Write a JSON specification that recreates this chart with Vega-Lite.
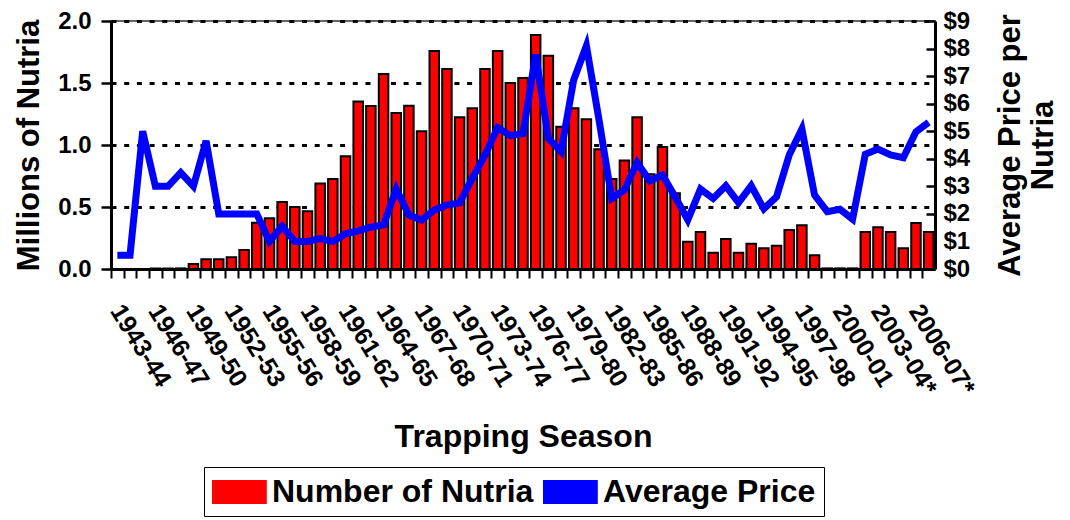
{
  "$schema": "https://vega.github.io/schema/vega-lite/v6.json",
  "width": 824,
  "height": 248,
  "padding": {"left": 13, "top": 9, "right": 5, "bottom": 3},
  "background": "white",
  "config": {
    "font": "Liberation Sans",
    "view": {"stroke": "#333333", "strokeWidth": 1.5},
    "axis": {
      "labelFont": "Liberation Sans", "labelFontWeight": "bold", "labelFontSize": 24, "labelColor": "black",
      "titleFont": "Liberation Sans", "titleFontWeight": "bold", "titleFontSize": 31, "titleColor": "black",
      "domainColor": "black", "domainWidth": 3, "tickColor": "black", "tickWidth": 2.5
    },
    "legend": {
      "labelFont": "Liberation Sans", "labelFontWeight": "bold", "labelFontSize": 32, "labelColor": "black"
    }
  },
  "datasets": {
    "counts": [
      {"season": "1943-44", "series": "Number of Nutria", "value": 0},
      {"season": "1944-45", "series": "Number of Nutria", "value": 0},
      {"season": "1945-46", "series": "Number of Nutria", "value": 0},
      {"season": "1946-47", "series": "Number of Nutria", "value": 0.005},
      {"season": "1947-48", "series": "Number of Nutria", "value": 0.005},
      {"season": "1948-49", "series": "Number of Nutria", "value": 0.005},
      {"season": "1949-50", "series": "Number of Nutria", "value": 0.04},
      {"season": "1950-51", "series": "Number of Nutria", "value": 0.078},
      {"season": "1951-52", "series": "Number of Nutria", "value": 0.078},
      {"season": "1952-53", "series": "Number of Nutria", "value": 0.094},
      {"season": "1953-54", "series": "Number of Nutria", "value": 0.153},
      {"season": "1954-55", "series": "Number of Nutria", "value": 0.373},
      {"season": "1955-56", "series": "Number of Nutria", "value": 0.41},
      {"season": "1956-57", "series": "Number of Nutria", "value": 0.54},
      {"season": "1957-58", "series": "Number of Nutria", "value": 0.50},
      {"season": "1958-59", "series": "Number of Nutria", "value": 0.465},
      {"season": "1959-60", "series": "Number of Nutria", "value": 0.69},
      {"season": "1960-61", "series": "Number of Nutria", "value": 0.726},
      {"season": "1961-62", "series": "Number of Nutria", "value": 0.91},
      {"season": "1962-63", "series": "Number of Nutria", "value": 1.35},
      {"season": "1963-64", "series": "Number of Nutria", "value": 1.315},
      {"season": "1964-65", "series": "Number of Nutria", "value": 1.573},
      {"season": "1965-66", "series": "Number of Nutria", "value": 1.258},
      {"season": "1966-67", "series": "Number of Nutria", "value": 1.317},
      {"season": "1967-68", "series": "Number of Nutria", "value": 1.11},
      {"season": "1968-69", "series": "Number of Nutria", "value": 1.758},
      {"season": "1969-70", "series": "Number of Nutria", "value": 1.613},
      {"season": "1970-71", "series": "Number of Nutria", "value": 1.223},
      {"season": "1971-72", "series": "Number of Nutria", "value": 1.296},
      {"season": "1972-73", "series": "Number of Nutria", "value": 1.613},
      {"season": "1973-74", "series": "Number of Nutria", "value": 1.758},
      {"season": "1974-75", "series": "Number of Nutria", "value": 1.50},
      {"season": "1975-76", "series": "Number of Nutria", "value": 1.54},
      {"season": "1976-77", "series": "Number of Nutria", "value": 1.887},
      {"season": "1977-78", "series": "Number of Nutria", "value": 1.72},
      {"season": "1978-79", "series": "Number of Nutria", "value": 1.148},
      {"season": "1979-80", "series": "Number of Nutria", "value": 1.296},
      {"season": "1980-81", "series": "Number of Nutria", "value": 1.207},
      {"season": "1981-82", "series": "Number of Nutria", "value": 0.965},
      {"season": "1982-83", "series": "Number of Nutria", "value": 0.726},
      {"season": "1983-84", "series": "Number of Nutria", "value": 0.874},
      {"season": "1984-85", "series": "Number of Nutria", "value": 1.223},
      {"season": "1985-86", "series": "Number of Nutria", "value": 0.764},
      {"season": "1986-87", "series": "Number of Nutria", "value": 0.984},
      {"season": "1987-88", "series": "Number of Nutria", "value": 0.61},
      {"season": "1988-89", "series": "Number of Nutria", "value": 0.22},
      {"season": "1989-90", "series": "Number of Nutria", "value": 0.298},
      {"season": "1990-91", "series": "Number of Nutria", "value": 0.132},
      {"season": "1991-92", "series": "Number of Nutria", "value": 0.242},
      {"season": "1992-93", "series": "Number of Nutria", "value": 0.132},
      {"season": "1993-94", "series": "Number of Nutria", "value": 0.204},
      {"season": "1994-95", "series": "Number of Nutria", "value": 0.167},
      {"season": "1995-96", "series": "Number of Nutria", "value": 0.188},
      {"season": "1996-97", "series": "Number of Nutria", "value": 0.315},
      {"season": "1997-98", "series": "Number of Nutria", "value": 0.352},
      {"season": "1998-99", "series": "Number of Nutria", "value": 0.11},
      {"season": "1999-00", "series": "Number of Nutria", "value": 0.005},
      {"season": "2000-01", "series": "Number of Nutria", "value": 0.005},
      {"season": "2001-02", "series": "Number of Nutria", "value": 0.005},
      {"season": "2002-03*", "series": "Number of Nutria", "value": 0.298},
      {"season": "2003-04*", "series": "Number of Nutria", "value": 0.336},
      {"season": "2004-05*", "series": "Number of Nutria", "value": 0.298},
      {"season": "2005-06*", "series": "Number of Nutria", "value": 0.167},
      {"season": "2006-07*", "series": "Number of Nutria", "value": 0.371},
      {"season": "2007-08*", "series": "Number of Nutria", "value": 0.298}
    ],
    "prices": [
      {"season": "1943-44", "series": "Average Price", "value": 0.50},
      {"season": "1944-45", "series": "Average Price", "value": 0.50},
      {"season": "1945-46", "series": "Average Price", "value": 5.00},
      {"season": "1946-47", "series": "Average Price", "value": 3.00},
      {"season": "1947-48", "series": "Average Price", "value": 3.00},
      {"season": "1948-49", "series": "Average Price", "value": 3.50},
      {"season": "1949-50", "series": "Average Price", "value": 3.00},
      {"season": "1950-51", "series": "Average Price", "value": 4.65},
      {"season": "1951-52", "series": "Average Price", "value": 2.00},
      {"season": "1952-53", "series": "Average Price", "value": 2.00},
      {"season": "1953-54", "series": "Average Price", "value": 2.00},
      {"season": "1954-55", "series": "Average Price", "value": 2.00},
      {"season": "1955-56", "series": "Average Price", "value": 1.00},
      {"season": "1956-57", "series": "Average Price", "value": 1.55},
      {"season": "1957-58", "series": "Average Price", "value": 1.00},
      {"season": "1958-59", "series": "Average Price", "value": 1.00},
      {"season": "1959-60", "series": "Average Price", "value": 1.10},
      {"season": "1960-61", "series": "Average Price", "value": 1.00},
      {"season": "1961-62", "series": "Average Price", "value": 1.28},
      {"season": "1962-63", "series": "Average Price", "value": 1.38},
      {"season": "1963-64", "series": "Average Price", "value": 1.52},
      {"season": "1964-65", "series": "Average Price", "value": 1.60},
      {"season": "1965-66", "series": "Average Price", "value": 2.90},
      {"season": "1966-67", "series": "Average Price", "value": 1.96},
      {"season": "1967-68", "series": "Average Price", "value": 1.78},
      {"season": "1968-69", "series": "Average Price", "value": 2.14},
      {"season": "1969-70", "series": "Average Price", "value": 2.32},
      {"season": "1970-71", "series": "Average Price", "value": 2.40},
      {"season": "1971-72", "series": "Average Price", "value": 3.29},
      {"season": "1972-73", "series": "Average Price", "value": 4.14},
      {"season": "1973-74", "series": "Average Price", "value": 5.13},
      {"season": "1974-75", "series": "Average Price", "value": 4.84},
      {"season": "1975-76", "series": "Average Price", "value": 4.92},
      {"season": "1976-77", "series": "Average Price", "value": 7.78},
      {"season": "1977-78", "series": "Average Price", "value": 4.74},
      {"season": "1978-79", "series": "Average Price", "value": 4.26},
      {"season": "1979-80", "series": "Average Price", "value": 6.86},
      {"season": "1980-81", "series": "Average Price", "value": 8.10},
      {"season": "1981-82", "series": "Average Price", "value": 5.40},
      {"season": "1982-83", "series": "Average Price", "value": 2.56},
      {"season": "1983-84", "series": "Average Price", "value": 2.87},
      {"season": "1984-85", "series": "Average Price", "value": 3.86},
      {"season": "1985-86", "series": "Average Price", "value": 3.20},
      {"season": "1986-87", "series": "Average Price", "value": 3.41},
      {"season": "1987-88", "series": "Average Price", "value": 2.62},
      {"season": "1988-89", "series": "Average Price", "value": 1.78},
      {"season": "1989-90", "series": "Average Price", "value": 2.90},
      {"season": "1990-91", "series": "Average Price", "value": 2.56},
      {"season": "1991-92", "series": "Average Price", "value": 3.02},
      {"season": "1992-93", "series": "Average Price", "value": 2.41},
      {"season": "1993-94", "series": "Average Price", "value": 3.02},
      {"season": "1994-95", "series": "Average Price", "value": 2.18},
      {"season": "1995-96", "series": "Average Price", "value": 2.62},
      {"season": "1996-97", "series": "Average Price", "value": 4.14},
      {"season": "1997-98", "series": "Average Price", "value": 5.08},
      {"season": "1998-99", "series": "Average Price", "value": 2.68},
      {"season": "1999-00", "series": "Average Price", "value": 2.08},
      {"season": "2000-01", "series": "Average Price", "value": 2.17},
      {"season": "2001-02", "series": "Average Price", "value": 1.81},
      {"season": "2002-03*", "series": "Average Price", "value": 4.16},
      {"season": "2003-04*", "series": "Average Price", "value": 4.35},
      {"season": "2004-05*", "series": "Average Price", "value": 4.14},
      {"season": "2005-06*", "series": "Average Price", "value": 4.04},
      {"season": "2006-07*", "series": "Average Price", "value": 4.98},
      {"season": "2007-08*", "series": "Average Price", "value": 5.32}
    ]
  },
  "encoding": {
    "x": {
      "field": "season", "type": "ordinal", "sort": null,
      "scale": {"paddingInner": 0.25, "paddingOuter": 0.125},
      "axis": {
        "title": "Trapping Season",
        "labelAngle": 58, "labelAlign": "left", "labelBaseline": "top",
        "labelPadding": 22, "labelOverlap": false, "labelLimit": 300, "labelFontSize": 25,
        "labelExpr": "(toNumber(slice(datum.value,0,4))-1943)%3===0 ? datum.value : ''",
        "tickOffset": -6.34, "labelOffset": 15,
        "tickSize": 9, "tickWidth": 2,
        "titlePadding": 22, "titleFontSize": 32
      }
    }
  },
  "layer": [
    {
      "data": {"name": "counts"},
      "mark": {"type": "bar", "stroke": "black", "strokeWidth": 2},
      "encoding": {
        "y": {
          "field": "value", "type": "quantitative",
          "scale": {"domain": [0, 2], "nice": false},
          "axis": {
            "title": "Millions of Nutria", "values": [0, 0.5, 1, 1.5, 2], "format": ".1f",
            "tickSize": 10, "labelPadding": 10, "titlePadding": 12,
            "grid": true, "gridColor": "black", "gridWidth": 3, "gridDash": [5, 7.7]
          }
        },
        "color": {
          "field": "series", "type": "nominal",
          "scale": {"domain": ["Number of Nutria", "Average Price"], "range": ["#FF0000", "#0000FF"]},
          "legend": {
            "title": null, "orient": "none", "legendX": 93, "legendY": 446,
            "direction": "horizontal",
            "strokeColor": "black", "padding": 8,
            "symbolType": "M-1,-0.69H2.3V0.69H-1Z",
            "symbolSize": 1024, "symbolStrokeColor": "black", "symbolStrokeWidth": 2, "symbolOpacity": 1,
            "labelOffset": 26, "columnPadding": 6, "labelLimit": 600
          }
        }
      }
    },
    {
      "data": {"name": "prices"},
      "mark": {"type": "line", "strokeWidth": 7},
      "encoding": {
        "y": {
          "field": "value", "type": "quantitative",
          "scale": {"domain": [0, 9], "nice": false},
          "axis": {
            "orient": "right", "title": ["Average Price per", "Nutria"], "titleAngle": -90,
            "values": [0, 1, 2, 3, 4, 5, 6, 7, 8, 9], "format": "$.0f",
            "tickSize": -9, "labelPadding": 17, "titlePadding": 24, "grid": false
          }
        },
        "color": {"field": "series", "type": "nominal"}
      }
    }
  ],
  "resolve": {"scale": {"y": "independent"}}
}
